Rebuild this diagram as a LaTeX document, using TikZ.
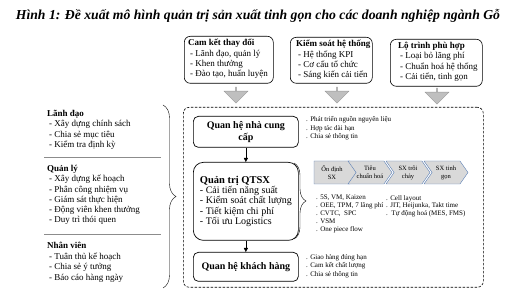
\documentclass[tikz,border=0pt]{standalone}
\usepackage{fontspec}
\setmainfont{Liberation Serif}
\usepackage{tikz}
\usetikzlibrary{shapes.arrows, shapes.symbols, arrows.meta, positioning, decorations.pathreplacing}

\definecolor{arrowgray}{HTML}{BFBFBF}
\definecolor{chevfill}{HTML}{D9D9D9}
\definecolor{chevline}{HTML}{5B7FB5}

\begin{document}
\begin{tikzpicture}[x=1pt, y=-1pt, >={Triangle[length=4pt, width=4pt]},
	every node/.style={font=\fontsize{9}{10.4}\selectfont},
	box/.style={draw, rounded corners=6pt, line width=0.6pt, anchor=north west, inner sep=0pt},
	txt/.style={align=left, inner sep=0pt, anchor=north west},
	note/.style={align=left, inner sep=0pt, anchor=north west, font=\fontsize{7}{8.8}\selectfont},
	main/.style={draw, rounded corners=5pt, line width=0.7pt, anchor=north west, minimum width=105pt, align=center, font=\fontsize{10}{11.5}\selectfont\bfseries},
	grayarrow/.style={single arrow, draw=black!40, fill=arrowgray, rotate=-90, minimum height=16pt, minimum width=24pt, single arrow head extend=6pt, inner sep=0pt},
	chev/.style={signal, signal to=east, signal from=west, signal pointer angle=110, draw=chevline, fill=chevfill, minimum width=44pt, minimum height=23pt, inner sep=0pt, align=center, font=\fontsize{6.5}{8}\selectfont}]
	\useasboundingbox (0,0) rectangle (520,304);

	\node[font=\fontsize{13.7}{16}\selectfont\bfseries\itshape] (title) at (258,16) {Hình 1: Đề xuất mô hình quản trị sản xuất tinh gọn cho các doanh nghiệp ngành Gỗ};

	% top row
	\node[box, minimum width=89pt, minimum height=47pt] (cam) at (184,36) {};
	\node[txt] (camtxt) at ([shift={(4,3)}]cam.north west) {\textbf{Cam kết thay đổi}\\\hspace{2pt}- Lãnh đạo, quản lý\\\hspace{2pt}- Khen thưởng\\\hspace{2pt}- Đào tạo, huấn luyện};
	\node[box, minimum width=82pt, minimum height=46pt] (ksht) at (290,37) {};
	\node[txt] (kshttxt) at ([shift={(6,3)}]ksht.north west) {\textbf{Kiểm soát hệ thống}\\\hspace{2pt}- Hệ thống KPI\\\hspace{2pt}- Cơ cấu tổ chức\\\hspace{2pt}- Sáng kiến cải tiến};
	\node[box, minimum width=92pt, minimum height=47pt] (ltph) at (390,39) {};
	\node[txt] (ltphtxt) at ([shift={(8,3)}]ltph.north west) {\textbf{Lộ trình phù hợp}\\\hspace{2pt}- Loại bỏ lãng phí\\\hspace{2pt}- Chuẩn hoá hệ thống\\\hspace{2pt}- Cải tiến, tinh gọn};

	\node[grayarrow] (ar1) at (236,95) {};
	\node[grayarrow] (ar2) at (337,95) {};
	\node[grayarrow] (ar3) at (437,96) {};

	% frame
	\node[box, dashed, dash pattern=on 2.5pt off 1.5pt, minimum width=300pt, minimum height=180pt] (frame) at (183,107) {};

	\node[main, minimum height=31pt] (ncc) at (193,116) {Quan hệ nhà cung\\cấp};
	\node[main, rounded corners=10pt, minimum height=78pt, align=left, font=\fontsize{10}{10.3}\selectfont] (qtsx) at (193,162) {{\fontsize{10.5}{11}\selectfont\textbf{Quản trị QTSX}}\\- Cải tiến năng suất\\- Kiểm soát chất lượng\\- Tiết kiệm chi phí\\- Tối ưu Logistics};
	\node[main, minimum height=29pt] (khh) at (193,252) {Quan hệ khách hàng};

	\draw[->] (ncc.south) -- (qtsx.north);
	\draw[->] (qtsx.south) -- (khh.north);

	\node[note] (nccnote) at (306,116) {. Phát triển nguồn nguyên liệu\\. Hợp tác dài hạn\\. Chia sẻ thông tin};
	\node[note] (khhnote) at (306,254) {. Giao hàng đúng hạn\\. Cam kết chất lượng\\. Chia sẻ thông tin};

	% chevrons
	\node[chev, signal from=nowhere] (c1) at (332,172.5) {Ổn định\\SX};
	\node[chev] (c2) at (370,172.5) {Tiêu\\chuẩn hoá};
	\node[chev] (c3) at (408,172.5) {SX trôi\\chảy};
	\node[chev] (c4) at (446,172.5) {SX tinh\\gọn};

	\node[note, font=\fontsize{7}{7.8}\selectfont] (tools) at (316,195) {. 5S, VM, Kaizen\\. OEE, TPM, 7 lãng phí\\. CVTC,\ \ SPC\\. VSM\\. One piece flow};
	\node[note, font=\fontsize{7}{7.8}\selectfont] (flow) at (386,195) {. Cell layout\\. JIT, Heijunka, Takt time\\.\ \ Tự động hoá (MES, FMS)};
	\draw[decorate, decoration={brace, amplitude=12pt}] (294,163) -- (294,239);

	% left column
	\node[txt, font=\fontsize{9}{10.5}\selectfont] (lead) at (47,110) {\textbf{Lãnh đạo}\\\hspace{2pt}- Xây dựng chính sách\\\hspace{2pt}- Chia sẻ mục tiêu\\\hspace{2pt}- Kiểm tra định kỳ};
	\node[txt, font=\fontsize{9}{10.3}\selectfont] (mgr) at (47,165) {\textbf{Quản lý}\\\hspace{2pt}- Xây dựng kế hoạch\\\hspace{2pt}- Phân công nhiệm\ vụ\\\hspace{2pt}- Giám sát thực hiện\\\hspace{2pt}- Động viên khen thưởng\\\hspace{2pt}- Duy trì thói quen};
	\node[txt, font=\fontsize{9}{10.5}\selectfont] (staff) at (47,242) {\textbf{Nhân viên}\\\hspace{2pt}- Tuân thủ kế hoạch\\\hspace{2pt}- Chia sẻ ý tưởng\\\hspace{2pt}- Báo cáo hàng ngày};
	\draw[black!45] (44,157) -- (161,157);
	\draw[black!45] (44,234) -- (161,234);
	\draw[decorate, decoration={brace, amplitude=13pt}] (163,105) -- (163,288);
\end{tikzpicture}
\end{document}
